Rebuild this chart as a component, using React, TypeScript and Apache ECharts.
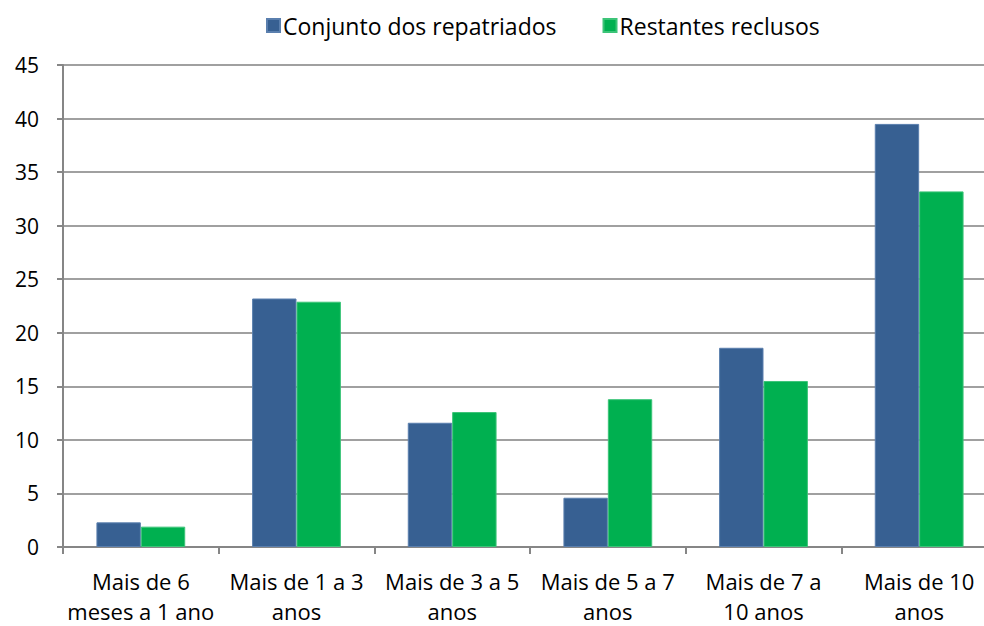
import React, { useEffect, useRef } from "react";
import * as echarts from "echarts";

const categories = [
  "Mais de 6\nmeses a 1 ano",
  "Mais de 1 a 3\nanos",
  "Mais de 3 a 5\nanos",
  "Mais de 5 a 7\nanos",
  "Mais de 7 a\n10 anos",
  "Mais de 10\nanos",
];
const repatriados = [2.3, 23.2, 11.6, 4.6, 18.6, 39.5];
const restantes = [1.9, 22.9, 12.6, 13.8, 15.5, 33.2];
const seriesNames = ["Conjunto dos repatriados", "Restantes reclusos"];

const FONT = "Open Sans";

export default function App() {
  const ref = useRef<HTMLDivElement>(null);
  useEffect(() => {
    document.body.style.margin = "0";
    const chart = echarts.init(ref.current!, null, { renderer: "svg" });
    chart.setOption({
      animation: false,
      backgroundColor: "#ffffff",
      textStyle: { fontFamily: FONT, color: "#000" },
      legend: {
        left: 266,
        top: 14,
        padding: 0,
        itemWidth: 13,
        itemHeight: 13,
        itemGap: 46,
        icon: "rect",
        textStyle: { fontFamily: FONT, fontSize: 23, color: "#000", padding: [0, 0, 0, -2] },
        data: seriesNames,
      },
      grid: { left: 63, right: 0, top: 65, bottom: 76, containLabel: false },
      xAxis: {
        type: "category",
        data: categories,
        axisLine: { lineStyle: { color: "#868686", width: 2 } },
        axisTick: { show: true, length: 7, lineStyle: { color: "#868686", width: 2 } },
        axisLabel: {
          fontFamily: FONT,
          fontSize: 22,
          color: "#000",
          margin: 19,
          lineHeight: 30,
          interval: 0,
        },
      },
      yAxis: {
        type: "value",
        min: 0,
        max: 45,
        interval: 5,
        axisLine: { show: true, lineStyle: { color: "#868686", width: 2 } },
        axisTick: { show: true, length: 6, lineStyle: { color: "#868686", width: 2 } },
        splitLine: { lineStyle: { color: "#a0a0a0", width: 2 } },
        axisLabel: { fontFamily: FONT, fontSize: 21, color: "#000", margin: 24 },
      },
      series: [
        {
          name: seriesNames[0],
          type: "bar",
          data: repatriados,
          barWidth: 44.4,
          barGap: "0%",
          itemStyle: { color: "#376092", borderColor: "#5a7fae", borderWidth: 1 },
        },
        {
          name: seriesNames[1],
          type: "bar",
          data: restantes,
          barWidth: 44.4,
          barGap: "0%",
          itemStyle: { color: "#00b050", borderColor: "#3cc478", borderWidth: 1 },
        },
      ],
    });
    return () => chart.dispose();
  }, []);
  return (
    <div style={{ width: 984, height: 626, overflow: "hidden", position: "relative" }}>
      <div ref={ref} style={{ width: 997, height: 626 }} />
    </div>
  );
}
